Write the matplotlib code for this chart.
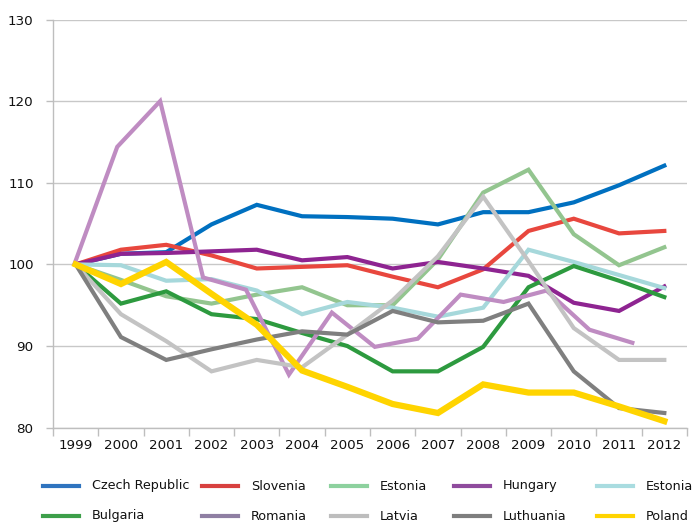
import matplotlib.pyplot as plt
from matplotlib.lines import Line2D
import numpy as np

years = ['1999', '2000', '2001', '2002', '2003', '2004', '2005',
         '2006', '2007', '2008', '2009', '2010', '2011', '2012']

czech = [100, 101.3, 101.5, 104.9, 107.3, 105.9, 105.8, 105.6, 104.9, 106.4, 106.4, 107.6, 109.7, 112.1]
slovenia = [100, 101.8, 102.4, 101.1, 99.5, 99.7, 99.9, 98.5, 97.2, 99.4, 104.1, 105.6, 103.8, 104.1]
estonia = [100, 98.1, 96.1, 95.2, 96.3, 97.2, 95.0, 95.0, 100.6, 108.8, 111.6, 103.7, 99.9, 102.1]
hungary = [100, 101.3, 101.4, 101.6, 101.8, 100.5, 100.9, 99.5, 100.3, 99.5, 98.6, 95.3, 94.3, 97.3]
estonia2 = [100, 99.9, 98.0, 98.2, 96.8, 93.9, 95.4, 94.7, 93.6, 94.7, 101.8, 100.3, 98.7, 97.1]
bulgaria = [100, 95.2, 96.7, 93.9, 93.3, 91.6, 90.0, 86.9, 86.9, 89.9, 97.2, 99.8, 98.0, 96.0]
romania = [100, 114.4, 120.0, 98.4, 96.9, 86.5, 94.1, 89.9, 90.9, 96.3, 95.4, 96.8, 92.0, 90.4]
latvia = [100, 93.9, 90.6, 86.9, 88.3, 87.4, 91.4, 95.6, 101.0, 108.3, 100.4, 92.2, 88.3, 88.3]
lithuania = [100, 91.1, 88.3, 89.6, 90.8, 91.8, 91.4, 94.3, 92.9, 93.1, 95.2, 86.9, 82.4, 81.8]
poland = [100, 97.6, 100.3, 96.4, 92.6, 87.0, 85.0, 82.9, 81.8, 85.3, 84.3, 84.3, 82.6, 80.8]

names = ['Czech Republic', 'Slovenia', 'Estonia', 'Hungary', 'Estonia',
         'Bulgaria', 'Romania', 'Latvia', 'Luthuania', 'Poland']
series = [czech, slovenia, estonia, hungary, estonia2,
          bulgaria, romania, latvia, lithuania, poland]
line_colors = ['#0070C0', '#E8473E', '#93C58F', '#8E2491', '#A6D8DB',
               '#2D9A3F', '#BF8CC2', '#C3C3C3', '#7F7F7F', '#FFD400']
legend_colors = ['#2F74BF', '#D8413F', '#8DD19E', '#8F4B9D', '#A9DCE0',
                 '#3D9F4A', '#8F7FA3', '#BDBDBD', '#7E7E7E', '#FFD400']

fig = plt.figure(figsize=(6.93, 5.22), dpi=100)
ax = fig.add_axes([0.0765, 0.1807, 0.9148, 0.7819])

x = np.arange(len(years))
for name, vals, col in zip(names, series, line_colors):
    xs = x
    if name == 'Romania':
        # this series sits on a slightly compressed x scale in the original
        xs = x * 0.948 - 0.03
    lw = 4.5 if name == 'Poland' else 3
    ax.plot(xs, vals, color=col, linewidth=lw, solid_joinstyle='miter')

ax.set_xlim(-0.5, len(years) - 0.5)
ax.set_ylim(80, 130)
ax.set_yticks([80, 90, 100, 110, 120, 130])
ax.set_xticks(x)
ax.set_xticklabels(years)
ax.set_xticks(np.arange(len(years) + 1) - 0.5, minor=True)
ax.tick_params(axis='x', which='major', length=0, labelsize=9.7, pad=8, labelcolor='#111111')
ax.tick_params(axis='x', which='minor', length=5.5, color='#BEBEBE', width=1)
ax.tick_params(axis='y', length=5, color='#BEBEBE', width=1, labelsize=9.7, pad=9,
               labelcolor='#111111')
ax.grid(axis='y', color='#C8C8C8', linewidth=1)
ax.set_axisbelow(True)
for s in ['top', 'right']:
    ax.spines[s].set_visible(False)
for s in ['left', 'bottom']:
    ax.spines[s].set_color('#BEBEBE')
    ax.spines[s].set_linewidth(1)

# legend laid out by hand, two rows of five
col_x = [43, 202, 331, 454, 597]
row_y = [486, 516]
W, H = 693.0, 522.0
for i, (name, col) in enumerate(zip(names, legend_colors)):
    r, c = divmod(i, 5)
    x0 = col_x[c] / W
    y0 = 1 - row_y[r] / H
    fig.add_artist(Line2D([x0, x0 + 36 / W], [y0, y0], color=col, linewidth=3,
                          transform=fig.transFigure))
    fig.text(x0 + 49 / W, y0, name, ha='left', va='center', fontsize=9.2,
             family=['Liberation Sans Narrow', 'DejaVu Sans'], color='#111111')

fig.savefig('out.png', dpi=100)
